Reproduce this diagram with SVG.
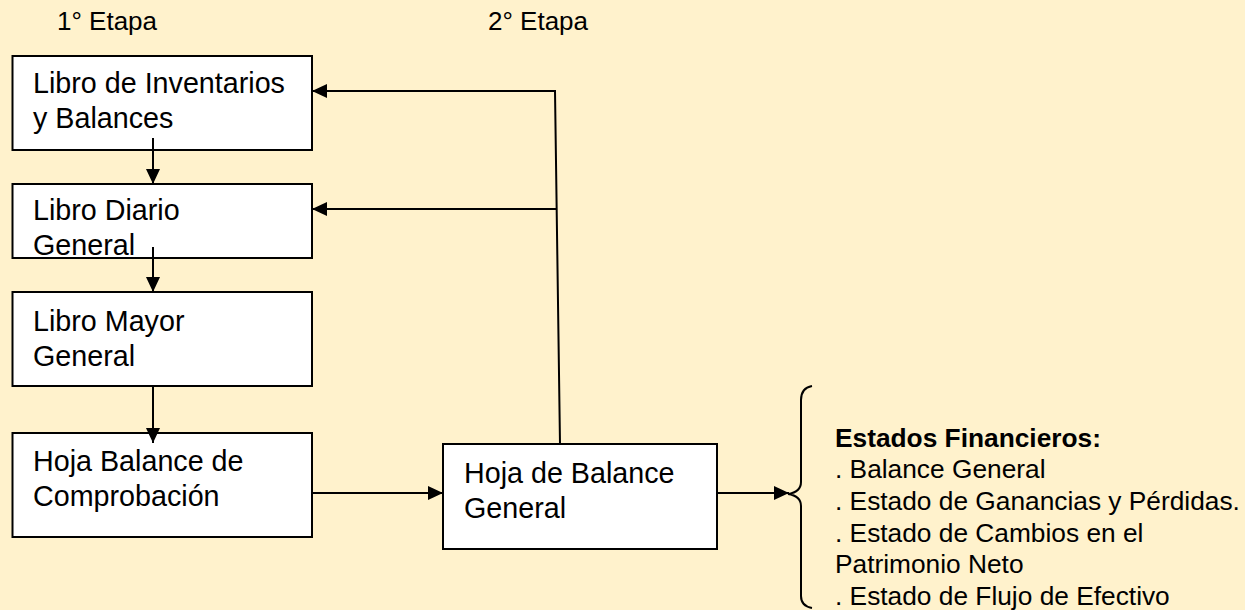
<svg xmlns="http://www.w3.org/2000/svg" width="1245" height="610" viewBox="0 0 1245 610">
<defs>
<marker id="ah" markerUnits="userSpaceOnUse" markerWidth="16" markerHeight="14" refX="15" refY="7" orient="auto">
<path d="M0,0 L15,7 L0,14 Z" fill="#000"/>
</marker>
<style>
.box{fill:#fff;stroke:#000;stroke-width:2}
.t{font-family:"Liberation Sans",Arial,sans-serif;font-size:28.7px;fill:#000}
.h{font-family:"Liberation Sans",Arial,sans-serif;font-size:26px;fill:#000}
.r{font-family:"Liberation Sans",Arial,sans-serif;font-size:26.3px;fill:#000}
.c{fill:none;stroke:#000;stroke-width:2}
.a{marker-end:url(#ah)}
</style>
</defs>
<rect width="1245" height="610" fill="#FFF2CC"/>
<text class="h" x="57" y="30">1° Etapa</text>
<text class="h" x="488" y="30">2° Etapa</text>
<g id="n1">
<rect class="box" x="12.5" y="56" width="299.5" height="94"/>
<text class="t" x="33" y="93">Libro de Inventarios</text>
<text class="t" x="33" y="128">y Balances</text>
</g>
<g id="n2">
<rect class="box" x="12.5" y="184" width="299.5" height="74"/>
<text class="t" x="33" y="220">Libro Diario</text>
<text class="t" x="33" y="255">General</text>
</g>
<g id="n3">
<rect class="box" x="12.5" y="292" width="299.5" height="94"/>
<text class="t" x="33" y="331">Libro Mayor</text>
<text class="t" x="33" y="366">General</text>
</g>
<g id="n4">
<rect class="box" x="12.5" y="433" width="299.5" height="104"/>
<text class="t" x="33" y="471">Hoja Balance de</text>
<text class="t" x="33" y="506">Comprobación</text>
</g>
<g id="n5">
<rect class="box" x="443" y="444" width="274" height="105"/>
<text class="t" x="464" y="483">Hoja de Balance</text>
<text class="t" x="464" y="518">General</text>
</g>
<g id="connectors">
<path class="c a" d="M153,138 L153,184"/>
<path class="c a" d="M153,247 L153,292"/>
<path class="c a" d="M153,386 L153,443"/>
<path class="c a" d="M312,493 L443,493"/>
<path class="c a" d="M717,493 L789,493"/>
<path class="c a" d="M560,444 L555,91 L312,91" style="stroke-width:2"/>
<path class="c a" d="M556,209 L312,209"/>
<path class="c" d="M812,386 Q801,388 801,400 L801,482 Q801,492 788,494 Q801,496 801,506 L801,596 Q801,606 812,608"/>
</g>
<g id="estados">
<text class="r" x="835" y="447" font-weight="bold">Estados Financieros:</text>
<text class="r" x="835" y="478">. Balance General</text>
<text class="r" x="835" y="510">. Estado de Ganancias y Pérdidas.</text>
<text class="r" x="835" y="542">. Estado de Cambios en el</text>
<text class="r" x="835" y="573">Patrimonio Neto</text>
<text class="r" x="835" y="605">. Estado de Flujo de Efectivo</text>
</g>
</svg>
